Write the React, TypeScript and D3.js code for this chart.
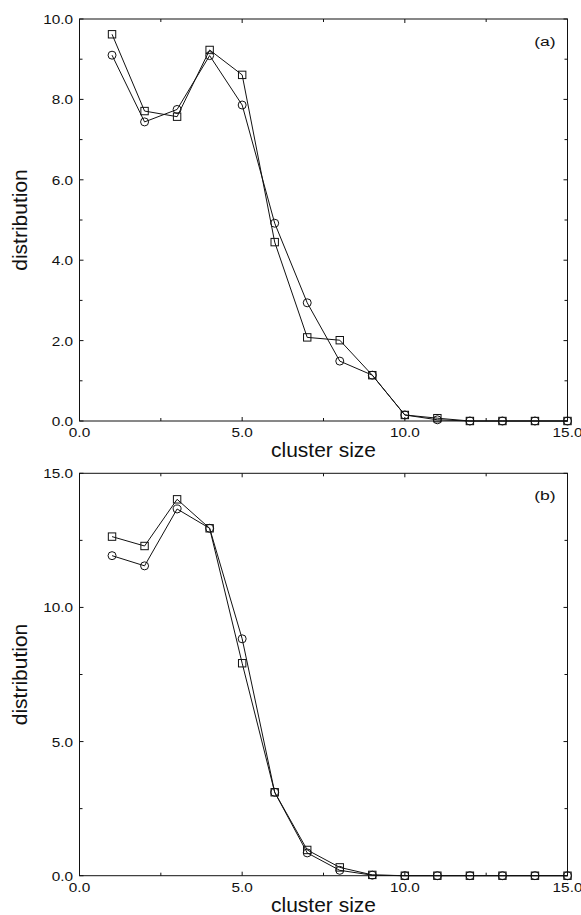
import React from "react";
import * as d3 from "d3";

// Cluster sizes 1..15
const clusterSizes = [1, 2, 3, 4, 5, 6, 7, 8, 9, 10, 11, 12, 13, 14, 15];

// Panel (a)
const aSquares = [9.62, 7.71, 7.57, 9.23, 8.61, 4.45, 2.08, 2.01, 1.14, 0.15, 0.07, 0.0, 0.0, 0.0, 0.0];
const aCircles = [9.1, 7.44, 7.75, 9.09, 7.86, 4.92, 2.94, 1.49, 1.14, 0.15, 0.03, 0.0, 0.0, 0.0, 0.0];

// Panel (b)
const bSquares = [12.64, 12.29, 14.03, 12.95, 7.92, 3.11, 0.96, 0.31, 0.03, 0.0, 0.0, 0.0, 0.0, 0.0, 0.0];
const bCircles = [11.93, 11.55, 13.67, 12.95, 8.83, 3.11, 0.85, 0.2, 0.02, 0.0, 0.0, 0.0, 0.0, 0.0, 0.0];

const xMajorTicks = [0, 5, 10, 15];
const xMinorTicks = [2.5, 7.5, 12.5];
const aYMajor = [0, 2, 4, 6, 8, 10];
const aYMinor = [1, 3, 5, 7, 9];
const bYMajor = [0, 5, 10, 15];
const bYMinor = [2.5, 7.5, 12.5];

const FONT = "'Liberation Sans', Arial, Helvetica, sans-serif";

type PanelProps = {
  top: number;
  bottom: number;
  yMax: number;
  yMajor: number[];
  yMinor: number[];
  squares: number[];
  circles: number[];
  tag: string;
};

// Small text drawn slightly wide, like the original typesetting
function SmallText({ x, y, anchor, size, sx, children }: { x: number; y: number; anchor: string; size: number; sx: number; children: React.ReactNode }) {
  return (
    <text
      transform={`translate(${x},${y}) scale(${sx},1)`}
      textAnchor={anchor}
      fontSize={size}
      fontFamily={FONT}
      fill="#111"
    >
      {children}
    </text>
  );
}

function Panel({ top, bottom, yMax, yMajor, yMinor, squares, circles, tag }: PanelProps) {
  const left = 79.5;
  const right = 567.5;
  const x = d3.scaleLinear().domain([0, 15]).range([left, right]);
  const y = d3.scaleLinear().domain([0, yMax]).range([bottom, top]);
  const line = d3
    .line<number>()
    .x((_, i) => x(clusterSizes[i]))
    .y((d) => y(d));

  const majLen = 4;
  const minLen = 3;
  const stroke = "#111";

  return (
    <g>
      {/* frame */}
      <rect x={left} y={top} width={right - left} height={bottom - top} fill="none" stroke={stroke} strokeWidth={1} />
      {/* x ticks, bottom and top, pointing inward */}
      {xMajorTicks.concat(xMinorTicks).map((t, i) => {
        const len = xMajorTicks.includes(t) ? majLen : minLen;
        return (
          <g key={"xt" + i} stroke={stroke} strokeWidth={1}>
            <line x1={x(t)} x2={x(t)} y1={bottom} y2={bottom - len} />
            <line x1={x(t)} x2={x(t)} y1={top} y2={top + len} />
          </g>
        );
      })}
      {/* y ticks, left and right, pointing inward */}
      {yMajor.concat(yMinor).map((t, i) => {
        const len = yMajor.includes(t) ? majLen : minLen;
        return (
          <g key={"yt" + i} stroke={stroke} strokeWidth={1}>
            <line x1={left} x2={left + len} y1={y(t)} y2={y(t)} />
            <line x1={right} x2={right - len} y1={y(t)} y2={y(t)} />
          </g>
        );
      })}
      {/* tick labels */}
      {xMajorTicks.map((t) => (
        <SmallText key={"xl" + t} x={x(t)} y={bottom + 16} anchor="middle" size={13} sx={1.18}>
          {t.toFixed(1)}
        </SmallText>
      ))}
      {yMajor.map((t) => (
        <SmallText key={"yl" + t} x={left - 6.5} y={y(t) + 5} anchor="end" size={13} sx={1.18}>
          {t.toFixed(1)}
        </SmallText>
      ))}
      {/* axis titles */}
      <SmallText x={(left + right) / 2} y={bottom + 36} anchor="middle" size={20} sx={1.05}>
        cluster size
      </SmallText>
      <text
        transform={`translate(${27},${(top + bottom) / 2}) rotate(-90)`}
        textAnchor="middle"
        fontSize={21}
        fontFamily={FONT}
        fill="#111"
      >
        distribution
      </text>
      <SmallText x={545} y={top + 27} anchor="middle" size={13.5} sx={1.3}>
        {tag}
      </SmallText>
      {/* series lines */}
      <path d={line(squares) || ""} fill="none" stroke={stroke} strokeWidth={1} />
      <path d={line(circles) || ""} fill="none" stroke={stroke} strokeWidth={1} />
      {/* markers */}
      {squares.map((v, i) => (
        <rect
          key={"s" + i}
          x={x(clusterSizes[i]) - 3.7}
          y={y(v) - 3.7}
          width={7.4}
          height={7.4}
          fill="none"
          stroke={stroke}
          strokeWidth={1}
        />
      ))}
      {circles.map((v, i) => (
        <circle key={"c" + i} cx={x(clusterSizes[i])} cy={y(v)} r={4} fill="none" stroke={stroke} strokeWidth={1} />
      ))}
    </g>
  );
}

export default function App() {
  return (
    <svg
      width={581}
      height={915}
      style={{ position: "absolute", left: 0, top: 0, background: "#fff" }}
    >
      <rect width={581} height={915} fill="#fff" />
      <Panel top={19} bottom={421} yMax={10} yMajor={aYMajor} yMinor={aYMinor} squares={aSquares} circles={aCircles} tag="(a)" />
      <Panel top={473.3} bottom={875.7} yMax={15} yMajor={bYMajor} yMinor={bYMinor} squares={bSquares} circles={bCircles} tag="(b)" />
    </svg>
  );
}
